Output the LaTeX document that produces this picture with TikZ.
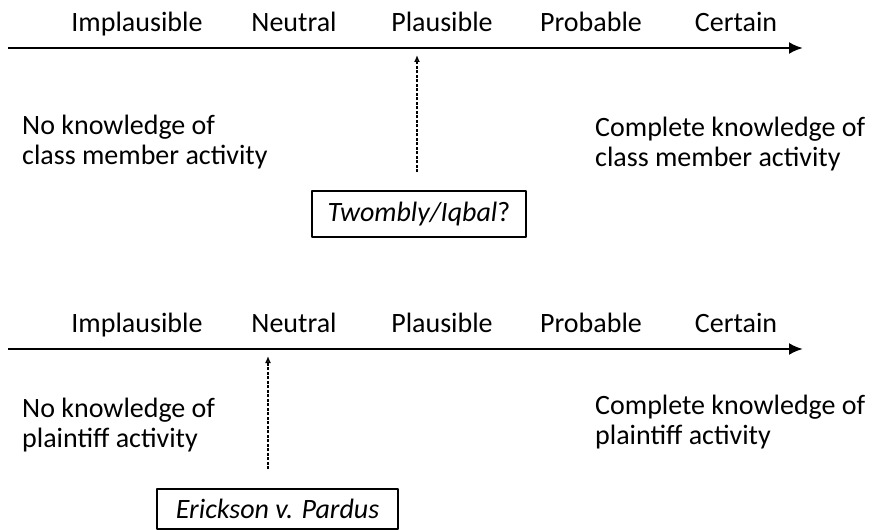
\documentclass[tikz,border=0pt]{standalone}
\usepackage{fontspec}
\setmainfont{Carlito}
\usetikzlibrary{arrows.meta}
\begin{document}
\begin{tikzpicture}[x=1bp,y=-1bp,>=latex,line join=bevel,
  lbl/.style={font=\fontsize{28bp}{30bp}\selectfont,inner sep=0pt},
  side/.style={lbl,align=left,anchor=base west},
  axis/.style={line width=2.6bp,-{Latex[length=14bp,width=12bp]}},
  probe/.style={line width=1.8bp,dash pattern=on 3bp off 1.5bp,-{Latex[length=7bp,width=6bp,open]}},
  casebox/.style={draw,line width=1.3bp,font=\fontsize{28bp}{30bp}\selectfont,inner sep=0pt}]
  \useasboundingbox (0,0) rectangle (872,530);
%%
  % Node: axis ends
  \coordinate (a0) at (8,48);
  \coordinate (a1) at (803,48);
  \coordinate (b0) at (8,349);
  \coordinate (b1) at (803,349);
  \coordinate (tipA) at (417,55);
  \coordinate (tipB) at (268,356);
  % Node: scale labels
  \node[lbl,anchor=base] (impA) at (137,32) {Implausible};
  \node[lbl,anchor=base] (neuA) at (294,32) {Neutral};
  \node[lbl,anchor=base] (plaA) at (442,32) {Plausible};
  \node[lbl,anchor=base] (proA) at (591,32) {Probable};
  \node[lbl,anchor=base] (cerA) at (736,32) {Certain};
  \node[lbl,anchor=base] (impB) at (137,333) {Implausible};
  \node[lbl,anchor=base] (neuB) at (294,333) {Neutral};
  \node[lbl,anchor=base] (plaB) at (442,333) {Plausible};
  \node[lbl,anchor=base] (proB) at (591,333) {Probable};
  \node[lbl,anchor=base] (cerB) at (736,333) {Certain};
  % Node: side notes
  \node[side] (noneA) at (22,165) {No knowledge of\\class member activity};
  \node[side] (fullA) at (595,167) {Complete knowledge of\\class member activity};
  \node[side] (noneB) at (22,447) {No knowledge of\\plaintiff activity};
  \node[side] (fullB) at (595,444) {Complete knowledge of\\plaintiff activity};
  % Node: cases
  \node[casebox,minimum width=214bp,minimum height=46bp] (twombly) at (419,214) {\textit{Twombly/Iqbal}?};
  \node[casebox,minimum width=241bp,minimum height=40bp] (erickson) at (277.5,509) {\textit{Erickson v. Pardus}};
  % Edge: axes
  \draw[axis] (a0) -- (a1);
  \draw[axis] (b0) -- (b1);
  % Edge: case -> scale
  \draw[probe,shorten <=18bp] (twombly.north -| tipA) -- (tipA);
  \draw[probe,shorten <=19bp] (erickson.north -| tipB) -- (tipB);
%
\end{tikzpicture}
\end{document}
